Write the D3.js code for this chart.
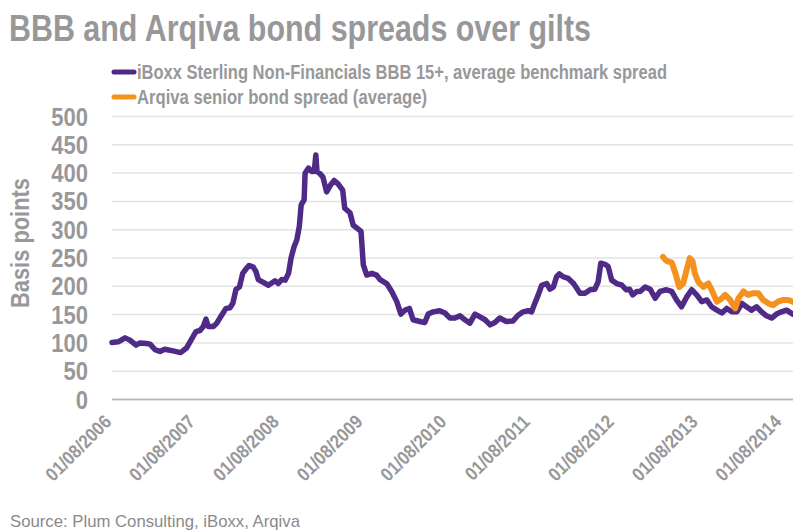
<!DOCTYPE html>
<html>
<head>
<meta charset="utf-8">
<script src="https://cdn.jsdelivr.net/npm/d3@7"></script>
<style>
  html, body { margin: 0; padding: 0; background: #fff; }
  svg { display: block; }
  text { font-family: "Liberation Sans", Arial, sans-serif; }
</style>
</head>
<body>
<svg id="chart" width="793" height="530"></svg>
<script>
// ---------------- DATA ----------------
const titleText = "BBB and Arqiva bond spreads over gilts";
const seriesNames = ["iBoxx Sterling Non-Financials BBB 15+, average benchmark spread",
                     "Arqiva senior bond spread (average)"];
const yAxisLabel = "Basis points";
const sourceText = "Source: Plum Consulting, iBoxx, Arqiva";

const yTicks = [0, 50, 100, 150, 200, 250, 300, 350, 400, 450, 500];
const xTickDates = ["2006-08-01","2007-08-01","2008-08-01","2009-08-01","2010-08-01",
                    "2011-08-01","2012-08-01","2013-08-01","2014-08-01"];
const xTickLabels = ["01/08/2006","01/08/2007","01/08/2008","01/08/2009","01/08/2010",
                     "01/08/2011","01/08/2012","01/08/2013","01/08/2014"];

const bbbDates = [
"2006-08-01","2006-08-28","2006-09-27","2006-10-18","2006-11-14","2006-12-01","2006-12-30",
"2007-01-14","2007-02-05","2007-02-26","2007-03-19","2007-04-24","2007-05-27","2007-06-22",
"2007-07-06","2007-08-02","2007-08-20","2007-09-03","2007-09-15","2007-09-25","2007-10-17",
"2007-11-01","2007-11-22","2007-12-11","2007-12-28","2008-01-10","2008-01-24","2008-02-08",
"2008-02-22","2008-03-10","2008-03-21","2008-04-08","2008-04-20","2008-04-30","2008-05-22",
"2008-06-13","2008-07-12","2008-07-26","2008-08-10","2008-08-25","2008-09-09","2008-09-20",
"2008-10-03","2008-10-15","2008-10-26","2008-11-03","2008-11-16","2008-11-20","2008-12-05",
"2008-12-19","2008-12-30","2009-01-06","2009-01-11","2009-01-22","2009-02-06","2009-02-22",
"2009-03-11","2009-03-27","2009-04-13","2009-05-03","2009-05-12","2009-06-04","2009-06-18",
"2009-07-10","2009-07-22","2009-08-01","2009-08-16","2009-09-07","2009-09-28","2009-10-13",
"2009-11-11","2009-12-03","2009-12-25","2010-01-12","2010-01-30","2010-02-18","2010-03-06",
"2010-04-05","2010-04-26","2010-05-11","2010-06-02","2010-06-30","2010-07-23","2010-08-14",
"2010-09-05","2010-09-27","2010-10-18","2010-11-09","2010-12-01","2010-12-23","2011-01-14",
"2011-02-05","2011-02-26","2011-03-19","2011-04-17","2011-05-16","2011-06-07","2011-06-29",
"2011-07-21","2011-08-05","2011-08-19","2011-09-03","2011-09-18","2011-10-10","2011-10-24",
"2011-11-08","2011-11-22","2011-12-04","2011-12-21","2012-01-12","2012-02-04","2012-03-03",
"2012-03-25","2012-04-16","2012-05-07","2012-05-21","2012-06-02","2012-06-20","2012-07-04",
"2012-07-19","2012-08-10","2012-09-02","2012-09-20","2012-10-05","2012-10-19","2012-11-06",
"2012-11-20","2012-12-12","2013-01-03","2013-01-25","2013-02-15","2013-03-15","2013-04-07",
"2013-04-28","2013-05-20","2013-06-11","2013-07-03","2013-07-25","2013-08-16","2013-09-07",
"2013-09-28","2013-10-21","2013-11-12","2013-12-03","2013-12-25","2014-01-16","2014-02-07",
"2014-02-27","2014-03-21","2014-04-12","2014-05-04","2014-05-25","2014-06-17","2014-07-08",
"2014-07-30","2014-08-21","2014-09-17"];
const bbbSpread = [
100,101,108,104,95,99,98,
97,87,84,88,85,82,90,
100,119,121,128,141,128,128,
134,148,160,161,169,194,198,
222,231,236,233,225,211,206,
201,209,204,211,210,222,249,
269,281,305,343,352,399,408,
402,402,431,402,399,392,366,
378,386,380,369,337,329,307,
300,296,237,219,222,219,211,
204,190,172,150,157,160,140,
137,135,150,154,156,152,143,
143,147,140,134,150,145,140,
131,135,143,137,138,148,154,
156,154,169,184,201,204,194,
198,216,221,216,213,204,187,
187,193,194,207,240,238,234,
210,204,201,193,194,184,190,
190,198,194,178,190,193,190,
175,163,180,193,184,172,175,
163,157,152,160,154,154,169,
163,157,163,154,147,143,150,
154,157,150];

const arqivaDates = [
"2013-02-28","2013-03-15","2013-04-07","2013-04-21","2013-05-10","2013-05-27","2013-06-11",
"2013-06-25","2013-07-07","2013-07-17","2013-08-01","2013-08-23","2013-09-14","2013-09-28",
"2013-10-21","2013-11-12","2013-11-26","2013-12-18","2014-01-09","2014-01-23","2014-02-14",
"2014-03-06","2014-03-28","2014-04-19","2014-05-11","2014-06-02","2014-06-24","2014-07-15",
"2014-08-06","2014-08-28","2014-09-17"];
const arqivaSpread = [
251,244,241,225,198,204,228,
249,243,222,207,198,204,193,
172,178,184,175,160,178,190,
184,187,187,175,169,166,172,
175,175,172];

// ---------------- CHART ----------------
const W = 793, H = 530;
const plot = { left: 112, right: 793, top: 116, bottom: 399 };
const grey = "#98989a";
const purple = "#4f2a86";
const orange = "#f5921f";

const parse = d3.timeParse("%Y-%m-%d");
const svg = d3.select("#chart");
svg.append("rect").attr("width", W).attr("height", H).attr("fill", "#fff");

const x = d3.scaleTime()
  .domain([parse("2006-08-01"), parse("2014-09-18")])
  .range([plot.left, plot.right]);
const y = d3.scaleLinear().domain([0, 500]).range([plot.bottom, plot.top]);

function condense(sel, f) {
  sel.each(function () {
    const w = this.getComputedTextLength();
    d3.select(this).attr("textLength", w * f).attr("lengthAdjust", "spacingAndGlyphs");
  });
}
function fitWidth(sel, w) {
  sel.attr("textLength", w).attr("lengthAdjust", "spacingAndGlyphs");
}

// gridlines
const yAxis = d3.axisLeft(y).tickValues(yTicks).tickSize(-(plot.right - plot.left)).tickFormat(d3.format("d")).tickPadding(24);
const gy = svg.append("g").attr("transform", `translate(${plot.left},0)`).call(yAxis);
gy.select(".domain").remove();
gy.selectAll(".tick line").attr("stroke", "#e3e3e3").attr("stroke-width", 1.5);
gy.selectAll(".tick text")
  .attr("fill", grey).attr("font-size", 25).attr("font-weight", "bold")
  .attr("x", 88 - plot.left).attr("dy", "0.36em")
  .style("font-family", '"Liberation Sans", Arial, sans-serif');
condense(gy.selectAll(".tick text"), 0.88);
gy.selectAll(".tick").filter(d => d === 0).select("line").attr("stroke", "#b8b8b8");

// x axis
const xAxis = d3.axisBottom(x)
  .tickValues(xTickDates.map(parse))
  .tickSize(0)
  .tickFormat((d, i) => xTickLabels[i]);
const gx = svg.append("g").attr("transform", `translate(0,${plot.bottom})`).call(xAxis);
gx.select(".domain").attr("stroke", "#b8b8b8").attr("stroke-width", 1.5);
gx.selectAll(".tick text")
  .attr("fill", grey).attr("font-size", 19).attr("font-weight", "bold")
  .attr("text-anchor", "end").attr("y", 0).attr("dy", 0)
  .attr("transform", "translate(0,24) rotate(-45)")
  .style("font-family", '"Liberation Sans", Arial, sans-serif');
condense(gx.selectAll(".tick text"), 0.88);

// lines
const line = d3.line().x(d => x(d[0])).y(d => y(d[1]));
const bbbData = bbbDates.map((d, i) => [parse(d), bbbSpread[i]]);
const arqData = arqivaDates.map((d, i) => [parse(d), arqivaSpread[i]]);

svg.append("path").datum(bbbData).attr("d", line)
  .attr("fill", "none").attr("stroke", purple).attr("stroke-width", 5.5)
  .attr("stroke-linejoin", "round").attr("stroke-linecap", "round");
svg.append("path").datum(arqData).attr("d", line)
  .attr("fill", "none").attr("stroke", orange).attr("stroke-width", 6)
  .attr("stroke-linejoin", "round").attr("stroke-linecap", "round");

// title
svg.append("text").attr("x", 9).attr("y", 41).text(titleText)
  .attr("fill", grey).attr("font-size", 37).attr("font-weight", "bold")
  .call(fitWidth, 582);

// legend
const legendColors = [purple, orange];
const legendWidths = [530, 290];
seriesNames.forEach((name, i) => {
  const cy = 72 + i * 25;
  svg.append("line").attr("x1", 114).attr("x2", 134).attr("y1", cy).attr("y2", cy)
    .attr("stroke", legendColors[i]).attr("stroke-width", 5).attr("stroke-linecap", "round");
  svg.append("text").attr("x", 137).attr("y", cy + 7).text(name)
    .attr("fill", grey).attr("font-size", 20).attr("font-weight", "bold")
    .call(fitWidth, legendWidths[i]);
});

// y label
svg.append("text")
  .attr("transform", "translate(29,243) rotate(-90)")
  .attr("text-anchor", "middle").text(yAxisLabel)
  .attr("fill", grey).attr("font-size", 25).attr("font-weight", "bold")
  .call(fitWidth, 130);

// source
svg.append("text").attr("x", 10).attr("y", 527).text(sourceText)
  .attr("fill", "#8a8a8c").attr("font-size", 17)
  .call(fitWidth, 290);
</script>
</body>
</html>
